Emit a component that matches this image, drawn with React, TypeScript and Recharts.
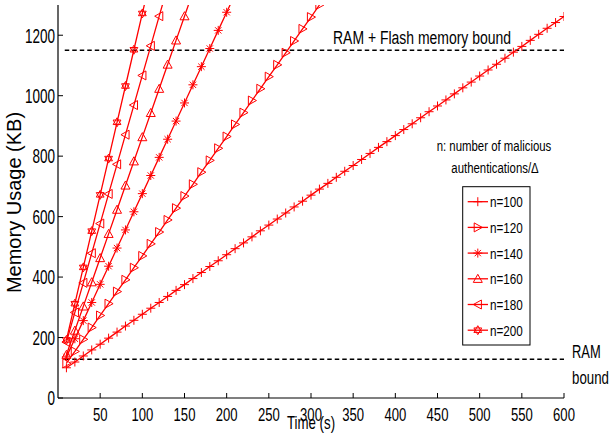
import { LineChart, Line, XAxis, YAxis, ReferenceLine, Legend } from 'recharts'

// time (s), one sample every 10 s
const time = [
  10, 20, 30, 40, 50, 60, 70, 80, 90, 100, 110, 120, 130, 140, 150, 160, 170, 180, 190, 200,
  210, 220, 230, 240, 250, 260, 270, 280, 290, 300, 310, 320, 330, 340, 350, 360, 370, 380, 390, 400,
  410, 420, 430, 440, 450, 460, 470, 480, 490, 500, 510, 520, 530, 540, 550, 560, 570, 580, 590, 600,
]

// memory usage (KB) per n
const n100 = [
  100, 119, 139, 159, 178, 198, 218, 238, 257, 277, 297, 316, 336, 356, 375, 395, 415, 435, 454, 474,
  494, 513, 533, 553, 572, 592, 612, 632, 651, 671, 691, 710, 730, 750, 769, 789, 809, 829, 848, 868,
  888, 907, 927, 947, 966, 986, 1006, 1026, 1045, 1065, 1085, 1104, 1124, 1144, 1163, 1183, 1203, 1223, 1242, 1262,
]
const n120 = [
  115, 154, 194, 233, 273, 312, 352, 391, 431, 470, 510, 549, 589, 628, 668, 707,
  747, 786, 826, 865, 905, 944, 984, 1023, 1063, 1102, 1142, 1181, 1221, 1260, 1300, 1339,
]
const n140 = [136, 196, 256, 316, 376, 436, 496, 556, 616, 676, 736, 796, 856, 916, 976, 1036, 1096, 1156, 1216, 1276, 1336]
const n160 = [143, 223, 303, 383, 463, 543, 623, 703, 783, 863, 943, 1023, 1103, 1183, 1263, 1343]
const n180 = [185, 283, 381, 479, 577, 675, 773, 871, 969, 1067, 1165, 1263, 1361]
const n200 = [192, 312, 432, 552, 672, 792, 912, 1032, 1152, 1272, 1392]

const xTicks = [50, 100, 150, 200, 250, 300, 350, 400, 450, 500, 550, 600]
const yTicks = [0, 200, 400, 600, 800, 1000, 1200]

const ramBound = 128
const flashBound = 1150

const series = [
  { name: 'n=100', values: n100, marker: 'plus' },
  { name: 'n=120', values: n120, marker: 'triRight' },
  { name: 'n=140', values: n140, marker: 'star' },
  { name: 'n=160', values: n160, marker: 'triUp' },
  { name: 'n=180', values: n180, marker: 'triLeft' },
  { name: 'n=200', values: n200, marker: 'hexagram' },
]

const RED = '#ff0000'
const FONT = '"Liberation Sans", Arial, sans-serif'
const PLOT_L = 58
const PLOT_R = 564
const PLOT_T = 5
const PLOT_B = 398
const yPix = (v: number) => PLOT_B - (v / 1300) * (PLOT_B - PLOT_T)

const rows = (values: number[]) => values.map((v, i) => ({ t: time[i], v }))

function Marker({ kind, cx, cy }: { kind: string; cx: number; cy: number }) {
  const s = 4.5
  const common = { fill: 'none', stroke: RED, strokeWidth: 1 }
  switch (kind) {
    case 'plus':
      return <path d={`M${cx - s},${cy}H${cx + s}M${cx},${cy - s}V${cy + s}`} {...common} />
    case 'triRight':
      return <polygon points={`${cx - s * 0.8},${cy - s} ${cx - s * 0.8},${cy + s} ${cx + s},${cy}`} {...common} />
    case 'triLeft':
      return <polygon points={`${cx + s * 0.8},${cy - s} ${cx + s * 0.8},${cy + s} ${cx - s},${cy}`} {...common} />
    case 'triUp':
      return <polygon points={`${cx},${cy - s} ${cx - s},${cy + s * 0.8} ${cx + s},${cy + s * 0.8}`} {...common} />
    case 'star': {
      const d = s * 0.7
      return (
        <path
          d={`M${cx - s},${cy}H${cx + s}M${cx},${cy - s}V${cy + s}M${cx - d},${cy - d}L${cx + d},${cy + d}M${cx - d},${cy + d}L${cx + d},${cy - d}`}
          {...common}
        />
      )
    }
    default: {
      const r = s
      const up = [0, 120, 240].map(a => {
        const rad = ((a - 90) * Math.PI) / 180
        return `${cx + r * Math.cos(rad)},${cy + r * Math.sin(rad)}`
      })
      const down = [0, 120, 240].map(a => {
        const rad = ((a + 90) * Math.PI) / 180
        return `${cx + r * Math.cos(rad)},${cy + r * Math.sin(rad)}`
      })
      return (
        <g>
          <polygon points={up.join(' ')} {...common} />
          <polygon points={down.join(' ')} {...common} />
        </g>
      )
    }
  }
}

function BottomTick({ x, payload }: any) {
  return (
    <g>
      <line x1={x} x2={x} y1={PLOT_B} y2={PLOT_B - 5} stroke="#000" />
      <text transform={`translate(${x},${PLOT_B + 22.7}) scale(0.69,1)`} textAnchor="middle" fontFamily={FONT} fontSize={19} fill="#000">
        {payload.value}
      </text>
    </g>
  )
}

function TopTick({ x }: any) {
  return <line x1={x} x2={x} y1={PLOT_T} y2={PLOT_T + 5} stroke="#000" />
}

function LeftTick({ y, payload }: any) {
  return (
    <g>
      <line x1={PLOT_L} x2={PLOT_L + 5} y1={y} y2={y} stroke="#000" />
      <text transform={`translate(55,${y + 7.3}) scale(0.66,1)`} textAnchor="end" fontFamily={FONT} fontSize={20.5} fill="#000">
        {payload.value}
      </text>
    </g>
  )
}

function RightTick({ y }: any) {
  return <line x1={PLOT_R} x2={PLOT_R - 5} y1={y} y2={y} stroke="#000" />
}

// legend box plus the note above it, drawn in page coordinates shifted by (ox, oy)
function LegendBox() {
  const ox = 420
  const oy = 130
  return (
    <svg width={192} height={220} style={{ display: 'block' }}>
      <text transform={`translate(${494 - ox},${151 - oy}) scale(0.76,1)`} textAnchor="middle" fontFamily={FONT} fontSize={15}>
        n: number of malicious
      </text>
      <text transform={`translate(${495 - ox},${173 - oy}) scale(0.76,1)`} textAnchor="middle" fontFamily={FONT} fontSize={15}>
        authentications/Δ
      </text>
      <rect x={462.7 - ox} y={186.7 - oy} width={67.3} height={158.3} fill="#fff" stroke="#000" strokeWidth={1} />
      {series.map((s, i) => {
        const y = 201.7 - oy + i * 25.7
        return (
          <g key={s.name}>
            <line x1={467.7 - ox} x2={488 - ox} y1={y} y2={y} stroke={RED} strokeWidth={1.3} />
            <Marker kind={s.marker} cx={477.8 - ox} cy={y} />
            <text transform={`translate(${490 - ox},${y + 5.4}) scale(0.78,1)`} fontFamily={FONT} fontSize={15}>
              {s.name}
            </text>
          </g>
        )
      })}
    </svg>
  )
}

export default function App() {
  return (
    <div style={{ width: 612, height: 446, background: '#fff' }}>
      <style>{'body{margin:0}'}</style>
      <LineChart width={612} height={446} margin={{ top: PLOT_T, right: 612 - PLOT_R, bottom: 0, left: 0 }}>
        <XAxis
          type="number"
          dataKey="t"
          domain={[0, 600]}
          ticks={xTicks}
          height={446 - PLOT_B}
          allowDataOverflow
          tickLine={false}
          axisLine={{ stroke: '#000', strokeWidth: 1.2 }}
          tick={<BottomTick />}
          label={() => (
            <text transform={`translate(311,429) scale(0.7,1)`} textAnchor="middle" fontFamily={FONT} fontSize={19}>
              Time (s)
            </text>
          )}
        />
        <XAxis
          xAxisId="top"
          orientation="top"
          type="number"
          domain={[0, 600]}
          ticks={xTicks.slice(0, -1)}
          height={0}
          allowDataOverflow
          tickLine={false}
          axisLine={{ stroke: '#000', strokeWidth: 1.2 }}
          tick={<TopTick />}
        />
        <YAxis
          type="number"
          domain={[0, 1300]}
          ticks={yTicks}
          width={PLOT_L}
          allowDataOverflow
          tickLine={false}
          axisLine={{ stroke: '#000', strokeWidth: 1.2 }}
          tick={<LeftTick />}
          label={() => (
            <text transform="translate(21,202.5) rotate(-90)" textAnchor="middle" fontFamily={FONT} fontSize={20}>
              Memory Usage (KB)
            </text>
          )}
        />
        <YAxis
          yAxisId="right"
          orientation="right"
          type="number"
          domain={[0, 1300]}
          ticks={yTicks.slice(1)}
          width={0}
          allowDataOverflow
          tickLine={false}
          axisLine={{ stroke: '#000', strokeWidth: 1.2 }}
          tick={<RightTick />}
        />
        <ReferenceLine
          segment={[{ x: 8, y: flashBound }, { x: 600, y: flashBound }]}
          stroke="#000"
          strokeWidth={1.5}
          strokeDasharray="4.5 3"
          label={() => (
            <text transform={`translate(422,${yPix(flashBound) - 6}) scale(0.735,1)`} textAnchor="middle" fontFamily={FONT} fontSize={19}>
              RAM + Flash memory bound
            </text>
          )}
        />
        <ReferenceLine
          segment={[{ x: 8, y: ramBound }, { x: 600, y: ramBound }]}
          stroke="#000"
          strokeWidth={1.5}
          strokeDasharray="4.5 3"
          label={() => (
            <g fontFamily={FONT} fontSize={19}>
              <text transform={`translate(572,${yPix(ramBound) - 1}) scale(0.68,1)`}>RAM</text>
              <text transform={`translate(572,${yPix(ramBound) + 24.5}) scale(0.7,1)`}>bound</text>
            </g>
          )}
        />
        {series.map(s => (
          <Line
            key={s.name}
            name={s.name}
            data={rows(s.values)}
            dataKey="v"
            type="linear"
            stroke={RED}
            strokeWidth={1.3}
            isAnimationActive={false}
            dot={(p: any) => <Marker key={`${s.name}-${p.index}`} kind={s.marker} cx={p.cx} cy={p.cy} />}
            activeDot={false}
          />
        ))}
        <Legend
          layout="horizontal"
          verticalAlign="middle"
          align="center"
          wrapperStyle={{ left: 420, top: 130, width: 192 }}
          content={() => <LegendBox />}
        />
      </LineChart>
    </div>
  )
}
